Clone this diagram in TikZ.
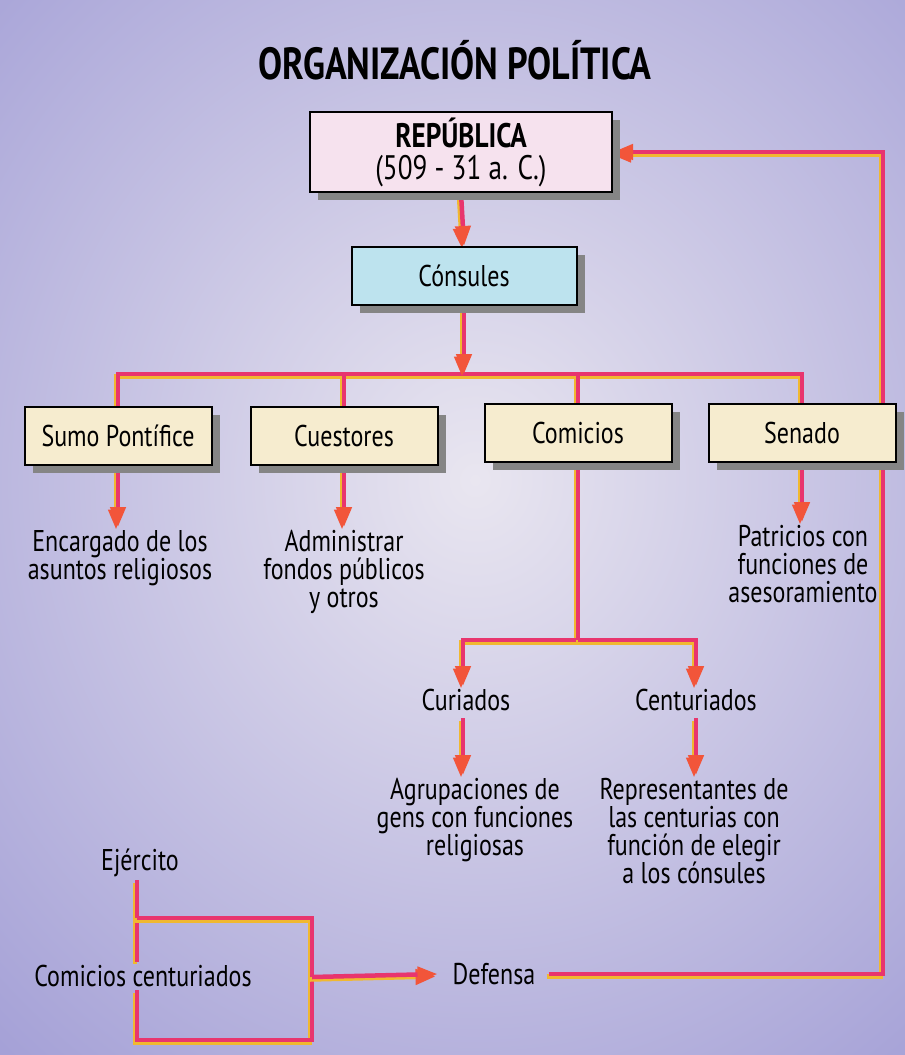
\documentclass[tikz,border=0pt]{standalone}
\usepackage{fontspec}
\setmainfont[FakeStretch=0.8]{PT Sans}
\usetikzlibrary{arrows.meta,shadows,positioning}
\pgfdeclarelayer{bgfill}
\pgfdeclarelayer{lines}
\pgfsetlayers{bgfill,lines,main}
\definecolor{bgbase}{HTML}{A09CD5}
\definecolor{bglight}{HTML}{E9E6F0}
\definecolor{reppink}{HTML}{F6E2EE}
\definecolor{conblue}{HTML}{BDE3EE}
\definecolor{boxbeige}{HTML}{F6ECCF}
\definecolor{shadowgray}{HTML}{858585}
\definecolor{linepink}{HTML}{E8356E}
\definecolor{lineyellow}{HTML}{F0B830}
\definecolor{arrowred}{HTML}{F2553A}
\tikzset{
  box/.style={draw=black, line width=2pt, inner sep=0pt, align=center,
    drop shadow={shadow xshift=8pt, shadow yshift=-8pt, fill=shadowgray, opacity=1}},
  lbl/.style={align=center, inner sep=3pt, font=\fontsize{30}{28}\selectfont},
  boxfont/.style={font=\fontsize{30}{30}\selectfont},
  conn/.style={line width=4.5pt, draw=linepink,
    preaction={draw=lineyellow, line width=4.5pt, transform canvas={xshift=-2pt, yshift=-2.5pt}}},
  arr/.style={-{Triangle[length=20pt,width=15pt,color=arrowred]}},
}
\begin{document}
\begin{tikzpicture}[x=1pt,y=-1pt]
\useasboundingbox (0,0) rectangle (905,1055);
\begin{pgfonlayer}{bgfill}
  \fill[white] (0,0) rectangle (905,1055);
  \fill[bgbase] (7,12) rectangle (905,1055);
  \shade[inner color=bglight, outer color=bgbase] (475,480) ellipse [x radius=760, y radius=820];
\end{pgfonlayer}

\node[font=\fontsize{45}{45}\selectfont\bfseries] (title) at (455,60) {ORGANIZACIÓN POLÍTICA};

\node[box, fill=reppink, minimum width=302pt, minimum height=80pt,
  font=\fontsize{34}{32}\selectfont] (rep) at (461,152) {\textbf{REPÚBLICA}\\(509 - 31 a. C.)};
\node[box, fill=conblue, minimum width=225pt, minimum height=58pt, boxfont] (cons) at (464,276) {Cónsules};

\node[box, fill=boxbeige, minimum width=187pt, minimum height=58pt, boxfont] (sumo) at (118,436) {Sumo Pontífice};
\node[box, fill=boxbeige, minimum width=187pt, minimum height=58pt, boxfont] (cuest) at (344,436) {Cuestores};
\node[box, fill=boxbeige, minimum width=187pt, minimum height=58pt, boxfont] (comi) at (578,433) {Comicios};
\node[box, fill=boxbeige, minimum width=187pt, minimum height=58pt, boxfont] (sen) at (802,433) {Senado};

\node[lbl, anchor=north] (enc) at (120,527) {Encargado de los\\asuntos religiosos};
\node[lbl, anchor=north] (adm) at (344,527) {Administrar\\fondos públicos\\y otros};
\node[lbl, anchor=north] (pat) at (803,522) {Patricios con\\funciones de\\asesoramiento};

\node[lbl, anchor=north] (cur) at (466,686) {Curiados};
\node[lbl, anchor=north] (cen) at (696,686) {Centuriados};
\node[lbl, anchor=north] (agr) at (475,775) {Agrupaciones de\\gens con funciones\\religiosas};
\node[lbl, anchor=north] (rep2) at (694,775) {Representantes de\\las centurias con\\función de elegir\\a los cónsules};

\node[lbl] (ejer) at (140,863) {Ejército};
\node[lbl] (cc) at (143,976) {Comicios centuriados};
\node[lbl] (def) at (494,974) {Defensa};

\coordinate (bar) at (464,374);
\coordinate (split) at (578,640);
\coordinate (bTL) at (137,918);
\coordinate (bTR) at (312,918);
\coordinate (bBL) at (137,1040);
\coordinate (bBR) at (312,1040);
\coordinate (bMid) at (312,977);
\coordinate (ret) at (883,152);

\begin{pgfonlayer}{lines}
  \draw[conn, arr] (rep.south) -- (cons.north);
  \draw[conn] (sumo.north) -- (sumo.north |- bar) -- (sen.north |- bar) -- (sen.north);
  \draw[conn] (cuest.north) -- (cuest.north |- bar);
  \draw[conn] (comi.north) -- (comi.north |- bar);
  \draw[conn, arr] (cons.south) -- (bar);
  \draw[conn, arr] (sumo.south) -- (sumo.south |- enc.north);
  \draw[conn, arr] (cuest.south) -- (cuest.south |- adm.north);
  \draw[conn, arr] (sen.south) -- (sen.south |- pat.north);
  \draw[conn] (comi.south) -- (split);
  \draw[conn, arr] (split) -| ([xshift=-3pt]cur.north);
  \draw[conn, arr] (split) -| (cen.north);
  \draw[conn, arr] ([xshift=-3pt, yshift=-4pt]cur.south) -- ([xshift=-3pt]cur.south |- agr.north);
  \draw[conn, arr] ([yshift=-4pt]cen.south) -- (cen.south |- rep2.north);
  \draw[conn] (ejer.south -| bTL) -- (cc.north -| bTL);
  \draw[conn] (cc.south -| bTL) -- (bBL) -- (bBR) -- (bTR) -- (bTL);
  \draw[conn, arr] (bMid) -- ([xshift=-12pt]def.west);
  \draw[conn, arr] ([xshift=10pt]def.east) -| (ret) -- (rep.east);
\end{pgfonlayer}
\end{tikzpicture}
\end{document}
